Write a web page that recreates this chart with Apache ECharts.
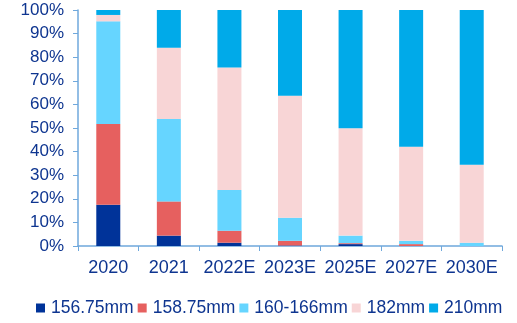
<!DOCTYPE html>
<html><head><meta charset="utf-8">
<script src="https://cdn.jsdelivr.net/npm/echarts@6/dist/echarts.min.js"></script>
<style>html,body{margin:0;padding:0;background:#fff}#c{width:517px;height:323px}</style>
</head><body><div id="c"></div>
<script>
var categories = ['2020','2021','2022E','2023E','2025E','2027E','2030E'];
var s15675 = [17.5, 4.4, 1.4, 0.2, 0.8, 0.0, 0.0];
var s15875 = [34.2, 14.5, 5.1, 2.0, 0.4, 0.8, 0.0];
var s160166 = [43.5, 34.9, 17.2, 9.8, 3.2, 1.4, 1.4];
var s182 = [2.7, 30.2, 51.9, 51.7, 45.5, 39.9, 33.0];
var s210 = [2.1, 16.0, 24.4, 36.3, 50.1, 57.9, 65.6];
var seriesNames = ['156.75mm','158.75mm','160-166mm','182mm','210mm'];
var yTicks = [0,10,20,30,40,50,60,70,80,90,100];

var colors = ['#003399','#E6605F','#66D5FF','#F8D5D6','#00AAE9'];
var textColor = '#0E3590';
var allData = [s15675, s15875, s160166, s182, s210];
var chart = echarts.init(document.getElementById('c'));
chart.setOption({
  animation:false,
  textStyle:{fontFamily:'Liberation Sans, Arial, sans-serif'},
  grid:{left:78,top:10,right:15,bottom:77,containLabel:false},
  legend:{
    data:seriesNames, bottom:1, left:31,
    itemWidth:9,itemHeight:9,itemGap:4,
    icon:'rect',
    textStyle:{color:textColor,fontSize:17.5,padding:[0,0,0,1]}
  },
  xAxis:{
    type:'category', data:categories,
    axisLine:{lineStyle:{color:'#6FA8DC',width:1.5}},
    axisTick:{show:true,length:5,lineStyle:{color:'#6FA8DC'}},
    axisLabel:{color:textColor,fontSize:18,margin:13,interval:0}
  },
  yAxis:{
    type:'value', min:0, max:100, interval:10,
    splitLine:{show:false},
    axisLine:{show:true,lineStyle:{color:'#6FA8DC',width:1.5}},
    axisTick:{show:true,length:5,lineStyle:{color:'#6FA8DC'}},
    axisLabel:{color:textColor,fontSize:17,margin:14,formatter:'{value}%'}
  },
  series: allData.map(function(d,i){
    return {name:seriesNames[i],type:'bar',stack:'t',data:d,barWidth:24,
      itemStyle:{color:colors[i]}};
  })
});
</script></body></html>
